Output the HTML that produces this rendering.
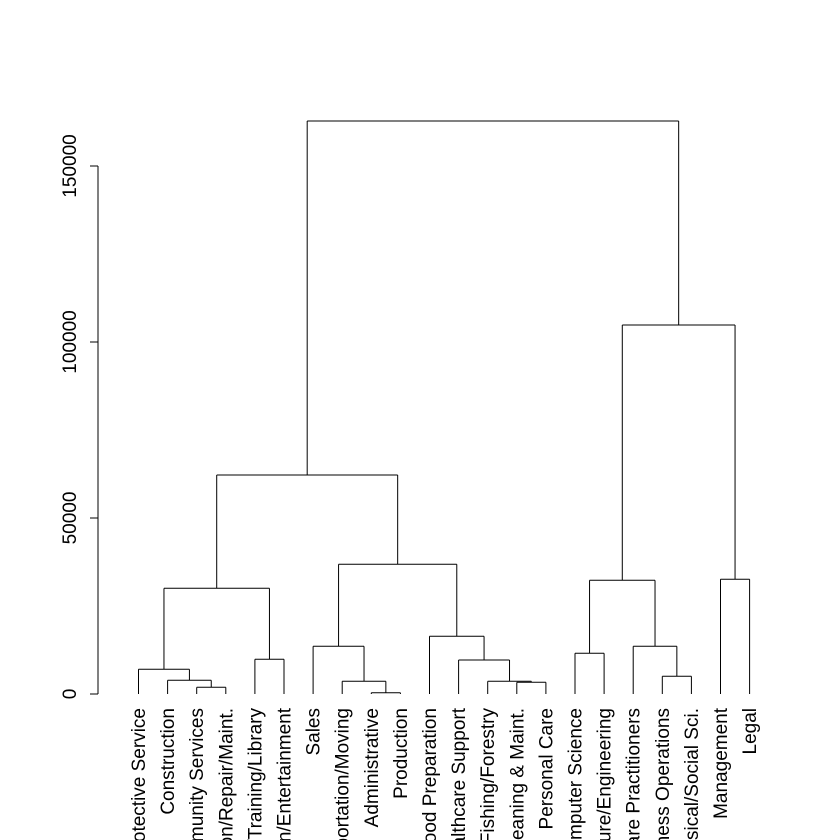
<!DOCTYPE html>
<html><head><meta charset="utf-8"><style>
html,body{margin:0;padding:0;background:#fff;overflow:hidden;width:840px;height:840px;}
svg{display:block;}
text{font-family:"Liberation Sans",Arial,sans-serif;font-size:19px;fill:#000;}
</style></head><body>
<svg id="s" width="840" height="840" viewBox="0 0 840 840" xmlns="http://www.w3.org/2000/svg">
<g stroke="#000" stroke-width="1" fill="none" id="g">
<line x1="98" y1="166" x2="98" y2="694"/>
<line x1="98" y1="694" x2="90" y2="694"/>
<line x1="98" y1="518" x2="90" y2="518"/>
<line x1="98" y1="342" x2="90" y2="342"/>
<line x1="98" y1="166" x2="90" y2="166"/>
</g>
<g text-anchor="middle">
<text transform="translate(76,694) rotate(-90)">0</text>
<text transform="translate(76,518) rotate(-90)">50000</text>
<text transform="translate(76,342) rotate(-90)">100000</text>
<text transform="translate(76,166) rotate(-90)">150000</text>
</g>
<g id="lab" text-anchor="end"></g>
</svg>
<script>
var names=["Protective Service","Construction","Community Services","Installation/Repair/Maint.","Education/Training/Library","Arts/Design/Entertainment","Sales","Transportation/Moving","Administrative","Production","Food Preparation","Healthcare Support","Farming/Fishing/Forestry","Building Cleaning & Maint.","Personal Care","Computer Science","Architecture/Engineering","Healthcare Practitioners","Business Operations","Life/Physical/Social Sci.","Management","Legal"];
var NS="http://www.w3.org/2000/svg",g=document.getElementById("g"),lab=document.getElementById("lab");
function ln(a,b,c,d){var l=document.createElementNS(NS,"line");l.setAttribute("x1",a);l.setAttribute("y1",b);l.setAttribute("x2",c);l.setAttribute("y2",d);g.appendChild(l);}
function L(i){return {x:138.5+29.1*i,y:694};}
function M(a,b,y){ln(a.x,a.y,a.x,y);ln(b.x,b.y,b.x,y);ln(a.x,y,b.x,y);return {x:(a.x+b.x)/2,y:y};}
for(var i=0;i<22;i++){var t=document.createElementNS(NS,"text");var x=L(i).x+6.5;t.setAttribute("transform","translate("+x+",708) rotate(-90)");t.textContent=names[i];lab.appendChild(t);}
var g1=M(M(L(0),M(L(1),M(L(2),L(3),687.3),680.3),669.3),M(L(4),L(5),659.3),588.3);
var sg=M(L(6),M(L(7),M(L(8),L(9),692.7),681.3),646.3);
var fg=M(L(10),M(L(11),M(L(12),M(L(13),L(14),682.3),681.3),660),636.3);
var g2=M(sg,fg,564.3);
var left=M(g1,g2,475);
var r1=M(M(L(15),L(16),653.3),M(L(17),M(L(18),L(19),676.3),646.3),580.3);
var r2=M(L(20),L(21),579.3);
var right=M(r1,r2,325);
M(left,right,121);
</script>
</body></html>
